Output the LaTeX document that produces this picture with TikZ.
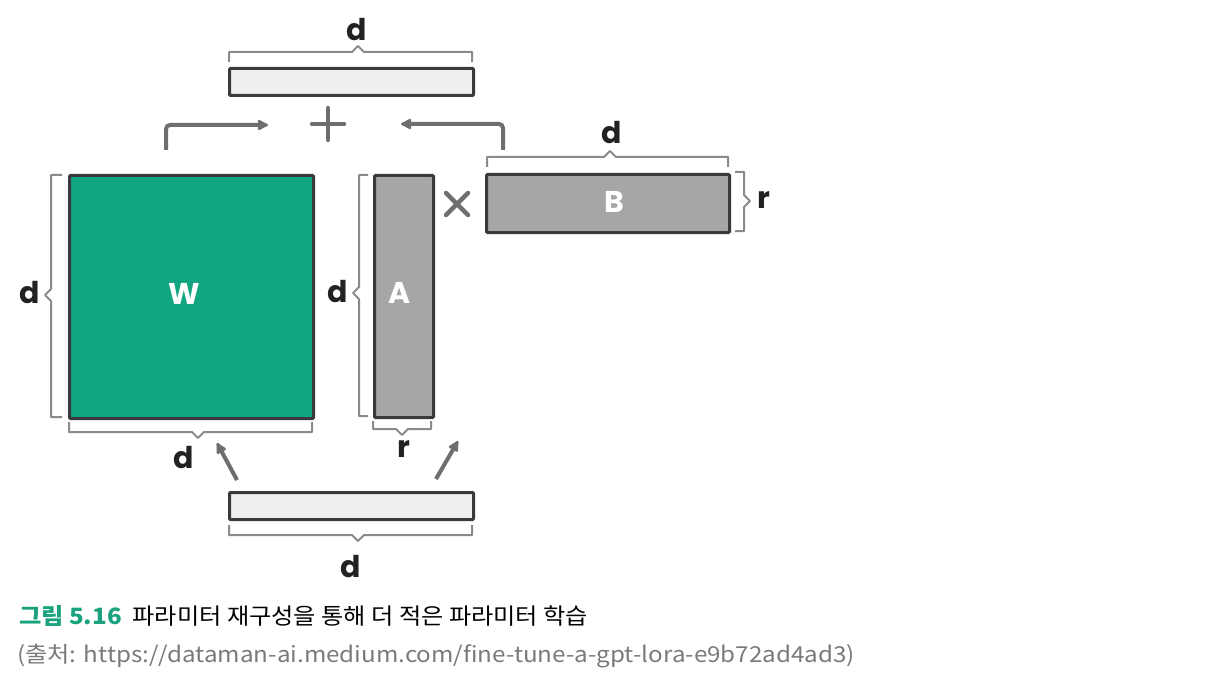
\documentclass[tikz,border=0pt]{standalone}
\usepackage{fontspec}
\setmainfont{Poppins}
\newfontfamily\krfont{Noto Sans CJK KR}
\usetikzlibrary{arrows.meta,calc}
\definecolor{wgreen}{HTML}{12A582}
\definecolor{edge}{HTML}{3A3A3C}
\definecolor{mgray}{HTML}{A6A6A8}
\definecolor{barfill}{HTML}{EFEFEF}
\definecolor{arrowgray}{HTML}{6E6E6E}
\definecolor{bracegray}{HTML}{8A8A8A}
\definecolor{capgreen}{HTML}{1AA27E}
\definecolor{capgray}{HTML}{7A7A7A}
\definecolor{labelblack}{HTML}{222222}
\begin{document}
\begin{tikzpicture}[x=1pt,y=-1pt,
  mat/.style={draw=edge, line width=3pt, rounded corners=1pt, inner sep=0pt,
    anchor=north west, rectangle},
  inlbl/.style={text=white, font=\fontsize{30}{32}\selectfont\bfseries, inner sep=0pt},
  brace/.style={draw=bracegray, line width=2pt, line join=round},
  flow/.style={draw=arrowgray, line width=4pt, rounded corners=4pt,
    -{Latex[length=13pt,width=13pt,round]}},
  lbl/.style={text=labelblack, font=\fontsize{30}{32}\selectfont\bfseries, inner sep=0pt},
  opsym/.style={draw=arrowgray, line width=4.5pt, line cap=round}
]
\useasboundingbox (0,0) rectangle (1207,687);
\fill[white] (0,0) rectangle (1207,687);

% matrices
\node[mat, fill=barfill, minimum width=244pt, minimum height=27pt] (top) at (228,67) {};
\node[mat, fill=wgreen, minimum width=244pt, minimum height=243pt] (W) at (68,174) {};
\node[mat, fill=mgray, minimum width=59pt, minimum height=242pt] (A) at (373,174) {};
\node[mat, fill=mgray, minimum width=243pt, minimum height=58pt] (B) at (485,173) {};
\node[mat, fill=barfill, minimum width=244pt, minimum height=27pt] (bot) at (228,491) {};
\node[inlbl] (Wl) at (184,294) {W};
\node[inlbl] (Al) at (400,293) {A};
\node[inlbl] (Bl) at (614,202) {B};

% braces
\draw[brace] (229,62) -- (229,52) -- (352,52) -- (358,46) -- (364,52) -- (472,52) -- (472,62);
\node[lbl] (dtop) at (357,30) {d};

\draw[brace] (62,175) -- (51,175) -- (51,289) -- (45,295) -- (51,301) -- (51,417) -- (62,417);
\node[lbl] (dWl) at (30,293) {d};

\draw[brace] (69,422) -- (69,432) -- (192,432) -- (198,438) -- (204,432) -- (312,432) -- (312,422);
\node[lbl] (dWb) at (184,458) {d};

\draw[brace] (368,175) -- (359,175) -- (359,287) -- (353,293) -- (359,299) -- (359,416) -- (368,416);
\node[lbl] (dAl) at (338,292) {d};

\draw[brace] (373,421) -- (373,429) -- (396,429) -- (402,435) -- (408,429) -- (431,429) -- (431,421);
\node[lbl] (rA) at (404,449) {r};

\draw[brace] (487,167) -- (487,157) -- (604,157) -- (610,151) -- (616,157) -- (728,157) -- (728,167);
\node[lbl] (dB) at (612,133) {d};

\draw[brace] (735,172) -- (744,172) -- (744,195) -- (750,201) -- (744,207) -- (744,231) -- (735,231);
\node[lbl] (rB) at (764,200) {r};

\draw[brace] (229,525) -- (229,535) -- (352,535) -- (358,541) -- (364,535) -- (472,535) -- (472,525);
\node[lbl] (dbot) at (351,567) {d};

% operators
\coordinate (plus) at (328,124);
\draw[opsym] ($(plus)+(-16,0)$) -- ($(plus)+(16,0)$);
\draw[opsym] ($(plus)+(0,-16)$) -- ($(plus)+(0,16)$);
\coordinate (times) at (457,204);
\draw[opsym] ($(times)+(-11,-11)$) -- ($(times)+(11,11)$);
\draw[opsym] ($(times)+(-11,11)$) -- ($(times)+(11,-11)$);

% arrows
\coordinate (lstart) at (166,150);
\coordinate (lend) at (268,125);
\draw[flow] (lstart) |- (lend);
\coordinate (rstart) at (503,150);
\coordinate (rend) at (401,124);
\draw[flow] (rstart) |- (rend);
\coordinate (b1s) at (237,480);
\coordinate (b1e) at (217,443);
\draw[flow] (b1s) -- (b1e);
\coordinate (b2s) at (436,479);
\coordinate (b2e) at (458,441);
\draw[flow] (b2s) -- (b2e);

% caption
\node[anchor=west, inner sep=0pt, font=\krfont\fontsize{22.5}{26}\selectfont] (cap1) at (19,616)
  {\scalebox{1.075}[1]{{\color{capgreen}\bfseries 그림 5.16}\hspace{5pt} 파라미터 재구성을 통해 더 적은 파라미터 학습}};
\node[anchor=west, inner sep=0pt, text=capgray, font=\krfont\fontsize{22}{26}\selectfont] (cap2) at (17,656)
  {\scalebox{1.10}[1]{(출처: https://dataman-ai.medium.com/fine-tune-a-gpt-lora-e9b72ad4ad3)}};
\end{tikzpicture}
\end{document}
